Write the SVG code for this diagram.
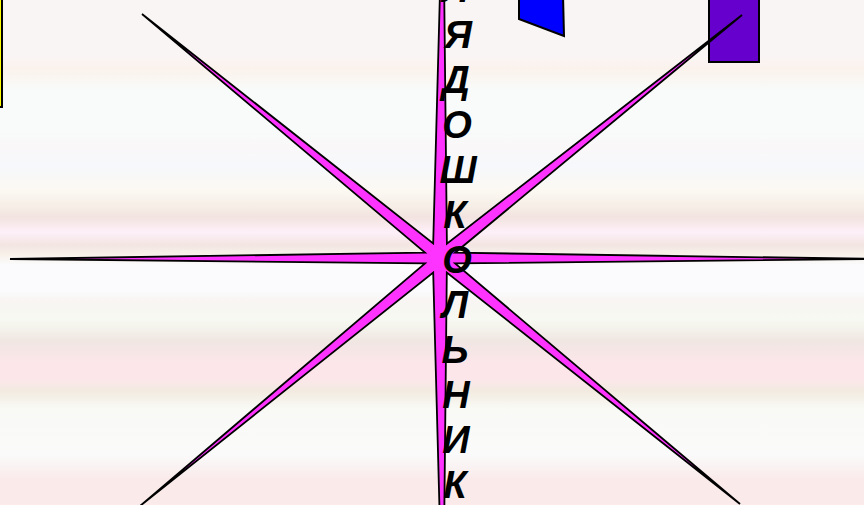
<svg xmlns="http://www.w3.org/2000/svg" width="864" height="505" viewBox="0 0 864 505">
<style>
.shape{stroke:#000;stroke-width:2}
.star{fill:#FF33FF;stroke:#000;stroke-width:1.8;stroke-linejoin:miter}
.lt{font-family:"Liberation Sans",Arial,sans-serif;font-weight:bold;font-style:italic;font-size:38px;fill:#000;text-anchor:middle}
</style>
<defs>
<linearGradient id="bg" x1="0" y1="0" x2="0" y2="1">
<stop offset="0" stop-color="#FAF5F5"/>
<stop offset="0.11" stop-color="#FAF5F5"/>
<stop offset="0.135" stop-color="#FBF2EC"/>
<stop offset="0.18" stop-color="#F8FBFA"/>
<stop offset="0.26" stop-color="#F8FBFA"/>
<stop offset="0.29" stop-color="#FAF7F8"/>
<stop offset="0.33" stop-color="#F6F8FB"/>
<stop offset="0.375" stop-color="#FCF9F3"/>
<stop offset="0.41" stop-color="#F5EDE6"/>
<stop offset="0.43" stop-color="#F3E3E0"/>
<stop offset="0.46" stop-color="#FDF0F8"/>
<stop offset="0.485" stop-color="#F3E5E2"/>
<stop offset="0.505" stop-color="#F8F2EA"/>
<stop offset="0.525" stop-color="#FBFBFD"/>
<stop offset="0.575" stop-color="#FBFBFD"/>
<stop offset="0.595" stop-color="#F8F5F3"/>
<stop offset="0.635" stop-color="#F6F9F1"/>
<stop offset="0.675" stop-color="#F0E6E2"/>
<stop offset="0.72" stop-color="#FCE6EA"/>
<stop offset="0.75" stop-color="#FCE6EA"/>
<stop offset="0.775" stop-color="#F2EBE0"/>
<stop offset="0.81" stop-color="#F9FAF6"/>
<stop offset="0.9" stop-color="#FAFAFA"/>
<stop offset="0.95" stop-color="#FAEAEA"/>
<stop offset="1" stop-color="#FAEAEA"/>
</linearGradient>
</defs>
<rect x="0" y="0" width="864" height="505" fill="url(#bg)"/>
<g id="yellow-box"><rect class="shape" x="-50" y="-10" width="52" height="117" fill="#FFFF00"/></g>
<g id="blue-shape"><polygon class="shape" points="519,-5 519,19 564,36 563,-5" fill="#0000FF"/></g>
<g id="purple-box"><rect class="shape" x="709" y="-10" width="50" height="72" fill="#6600CC"/></g>
<g id="star"><polygon class="star" points="880,259 455.1,263.4 740,504 446.8,272.5 443,640 433.2,272.5 140,506 425,263.4 10,259 425,252.6 142,14 433.2,243.5 443,-120 446.9,243.6 742,15 455.1,252.7"/></g>
<g id="word">
<text class="lt" x="456" y="2">Л</text>
<text class="lt" x="458" y="48">Я</text>
<text class="lt" x="456" y="93">Д</text>
<text class="lt" x="457" y="138">О</text>
<text class="lt" x="458" y="183">Ш</text>
<text class="lt" x="455" y="228">К</text>
<text class="lt" x="457" y="273">О</text>
<text class="lt" x="455" y="318">Л</text>
<text class="lt" x="455" y="363">Ь</text>
<text class="lt" x="456" y="408">Н</text>
<text class="lt" x="456" y="453">И</text>
<text class="lt" x="455" y="498">К</text>
</g>
</svg>
